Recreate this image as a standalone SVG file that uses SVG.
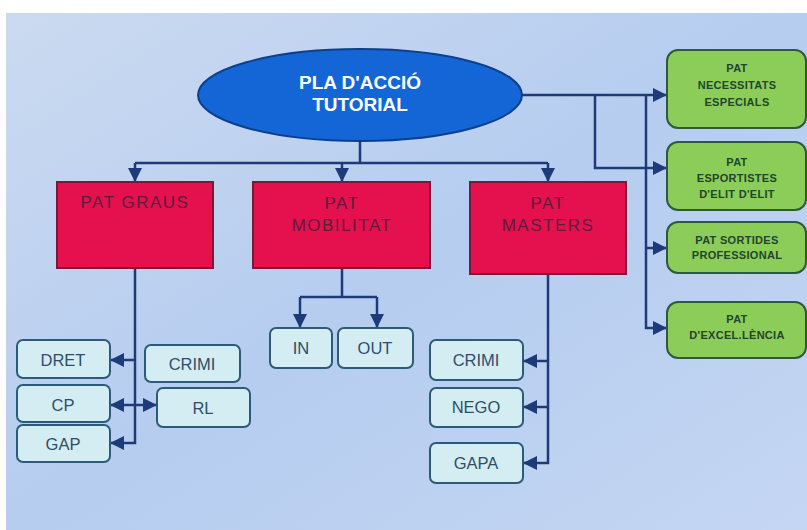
<svg xmlns="http://www.w3.org/2000/svg" width="807" height="530" viewBox="0 0 807 530">
<style>
.red{fill:#e5104e;stroke:#7a1838;stroke-width:2}
.rt{font-family:"Liberation Sans",Arial,sans-serif;font-size:17px;fill:#5e1c3c;text-anchor:middle;letter-spacing:1.5px}
.sub{fill:#d3edf3;stroke:#2d5a78;stroke-width:2}
.st{font-family:"Liberation Sans",Arial,sans-serif;font-size:16.5px;fill:#2f4d6b;text-anchor:middle}
.grn{fill:#8ccd5a;stroke:#2c5a3c;stroke-width:2}
.gt{font-family:"Liberation Sans",Arial,sans-serif;font-size:11px;font-weight:bold;fill:#22452a;text-anchor:middle;letter-spacing:0.3px}
.con{fill:none;stroke:#1c3b78;stroke-width:2.5}
.arr{marker-end:url(#ah)}
</style>
<defs>
<linearGradient id="bg" x1="0" y1="0" x2="1" y2="1">
<stop offset="0" stop-color="#cbdaf0"/>
<stop offset="0.5" stop-color="#b6cdf0"/>
<stop offset="1" stop-color="#c4d6f2"/>
</linearGradient>
<marker id="ah" markerUnits="userSpaceOnUse" markerWidth="14" markerHeight="14" refX="14" refY="7" orient="auto">
<path d="M0,0 L14,7 L0,14 z" fill="#1c3b78"/>
</marker>
</defs>
<rect width="807" height="530" fill="#ffffff"/>
<rect x="6" y="13" width="801" height="517" fill="url(#bg)"/>

<g id="connectors">
<path class="con" d="M360,140 V163 M135,163 H548"/>
<path class="con arr" d="M135,163 V182"/>
<path class="con arr" d="M342,163 V182"/>
<path class="con arr" d="M548,163 V182"/>
<path class="con arr" d="M522,95 H667"/>
<path class="con arr" d="M595,95 V168 H667"/>
<path class="con arr" d="M646,95 V328 H667"/>
<path class="con arr" d="M646,248 H667"/>
<path class="con arr" d="M135,268 V443 H110"/>
<path class="con arr" d="M135,360 H110"/>
<path class="con arr" d="M135,405 H110"/>
<path class="con arr" d="M135,405 H157"/>
<path class="con" d="M342,268 V297 M300,297 H377"/>
<path class="con arr" d="M300,297 V328"/>
<path class="con arr" d="M377,297 V328"/>
<path class="con arr" d="M548,275 V463 H523"/>
<path class="con arr" d="M548,361 H523"/>
<path class="con arr" d="M548,407 H523"/>
</g>

<g id="pla">
<ellipse cx="360" cy="95" rx="162" ry="46" fill="#1466d6" stroke="#0d3f8c" stroke-width="2"/>
<text x="360" y="89" font-family="Liberation Sans, Arial, sans-serif" font-size="19" font-weight="bold" fill="#ffffff" text-anchor="middle">PLA D'ACCIÓ</text>
<text x="360" y="111" font-family="Liberation Sans, Arial, sans-serif" font-size="19" font-weight="bold" fill="#ffffff" text-anchor="middle">TUTORIAL</text>
</g>

<g id="graus"><rect class="red" x="57" y="182" width="156" height="86"/><text class="rt" x="135" y="208">PAT GRAUS</text></g>
<g id="mobilitat"><rect class="red" x="253" y="182" width="177" height="86"/><text class="rt" x="342" y="209">PAT</text><text class="rt" x="342" y="231">MOBILITAT</text></g>
<g id="masters"><rect class="red" x="470" y="182" width="156" height="92"/><text class="rt" x="548" y="209">PAT</text><text class="rt" x="548" y="231">MASTERS</text></g>

<g id="dret"><rect class="sub" x="17" y="340" width="93" height="38" rx="6"/><text class="st" x="63" y="366">DRET</text></g>
<g id="cp"><rect class="sub" x="17" y="385" width="93" height="37" rx="6"/><text class="st" x="63" y="411">CP</text></g>
<g id="gap"><rect class="sub" x="17" y="425" width="93" height="37" rx="6"/><text class="st" x="63" y="450">GAP</text></g>
<g id="crimi1"><rect class="sub" x="145" y="345" width="95" height="37" rx="6"/><text class="st" x="192" y="370">CRIMI</text></g>
<g id="rl"><rect class="sub" x="157" y="388" width="93" height="39" rx="6"/><text class="st" x="203" y="414">RL</text></g>
<g id="in"><rect class="sub" x="270" y="328" width="62" height="40" rx="6"/><text class="st" x="301" y="354">IN</text></g>
<g id="out"><rect class="sub" x="338" y="328" width="75" height="40" rx="6"/><text class="st" x="375" y="354">OUT</text></g>
<g id="crimi2"><rect class="sub" x="430" y="340" width="93" height="40" rx="6"/><text class="st" x="476" y="366">CRIMI</text></g>
<g id="nego"><rect class="sub" x="430" y="388" width="93" height="39" rx="6"/><text class="st" x="476" y="413">NEGO</text></g>
<g id="gapa"><rect class="sub" x="430" y="443" width="93" height="40" rx="6"/><text class="st" x="476" y="469">GAPA</text></g>

<g id="necessitats"><rect class="grn" x="667" y="50" width="139" height="78" rx="11"/><text class="gt" x="737" y="72">PAT</text><text class="gt" x="737" y="89">NECESSITATS</text><text class="gt" x="737" y="106">ESPECIALS</text></g>
<g id="esportistes"><rect class="grn" x="667" y="142" width="139" height="68" rx="11"/><text class="gt" x="737" y="166">PAT</text><text class="gt" x="737" y="182">ESPORTISTES</text><text class="gt" x="737" y="198">D'ELIT D'ELIT</text></g>
<g id="sortides"><rect class="grn" x="667" y="222" width="139" height="51" rx="11"/><text class="gt" x="737" y="244">PAT SORTIDES</text><text class="gt" x="737" y="259">PROFESSIONAL</text></g>
<g id="excellencia"><rect class="grn" x="667" y="302" width="139" height="56" rx="11"/><text class="gt" x="737" y="323">PAT</text><text class="gt" x="737" y="339">D'EXCEL.LÈNCIA</text></g>
</svg>
